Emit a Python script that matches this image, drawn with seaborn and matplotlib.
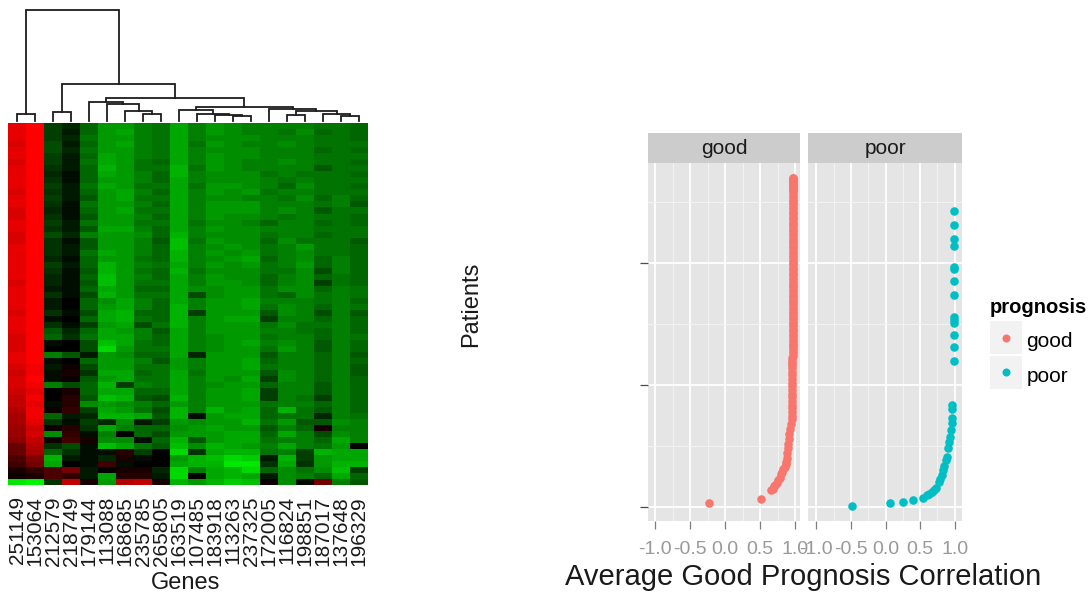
import numpy as np
import pandas as pd
import matplotlib
matplotlib.use("Agg")
import matplotlib.pyplot as plt
from matplotlib.colors import LinearSegmentedColormap
from matplotlib.lines import Line2D
from matplotlib.patches import Rectangle
from matplotlib.legend_handler import HandlerBase
import seaborn as sns

GENES = ["251149","153064","212579","218749","179144","113088","168685","235785","265805","163519",
         "107485","183918","113263","237325","172005","116824","198851","187017","137648","196329"]

EXPRESSION = [
 [18,20,-5,-3,-8,-12,-12,-10,-9,-13,-10,-12,-11,-10,-10,-10,-10,-9,-9,-8],
 [18,20,-5,-2,-8,-12,-13,-10,-9,-13,-10,-12,-11,-10,-10,-9,-11,-8,-9,-8],
 [18,20,-5,-3,-9,-12,-12,-10,-9,-13,-10,-11,-11,-11,-10,-10,-10,-9,-9,-8],
 [17,20,-6,-2,-8,-12,-13,-10,-9,-13,-9,-12,-11,-10,-10,-11,-10,-9,-9,-9],
 [18,20,-6,-3,-9,-12,-12,-10,-9,-13,-10,-11,-11,-11,-10,-10,-10,-8,-9,-8],
 [18,20,-5,-2,-8,-13,-12,-10,-9,-13,-10,-12,-11,-11,-10,-10,-10,-9,-9,-9],
 [17,20,-5,-2,-9,-13,-12,-9,-8,-13,-10,-12,-11,-10,-10,-11,-10,-9,-9,-8],
 [18,20,-4,-2,-8,-14,-12,-9,-9,-14,-9,-12,-11,-10,-10,-10,-10,-7,-9,-9],
 [18,20,-3,-1,-8,-13,-12,-10,-8,-14,-10,-11,-11,-11,-9,-10,-9,-9,-9,-8],
 [18,20,-4,-1,-8,-12,-12,-10,-8,-13,-10,-11,-11,-11,-10,-9,-10,-9,-9,-9],
 [18,20,-5,-2,-9,-13,-12,-9,-9,-13,-9,-12,-12,-11,-10,-8,-11,-9,-9,-8],
 [17,20,-4,-2,-8,-12,-13,-10,-8,-13,-10,-12,-11,-12,-9,-10,-10,-9,-9,-9],
 [18,20,-5,-2,-7,-12,-13,-9,-9,-13,-10,-11,-11,-10,-10,-9,-11,-8,-10,-8],
 [18,20,-4,-1,-9,-12,-12,-10,-8,-13,-10,-12,-12,-12,-10,-10,-10,-9,-10,-7],
 [17,20,-3,-1,-8,-12,-13,-9,-9,-13,-10,-12,-12,-12,-10,-11,-10,-7,-9,-9],
 [17,20,-4,-1,-7,-12,-12,-10,-8,-13,-10,-12,-11,-11,-10,-9,-10,-9,-9,-8],
 [18,20,-5,-2,-9,-12,-12,-9,-9,-13,-9,-11,-11,-10,-8,-10,-10,-8,-9,-8],
 [18,20,-4,-2,-7,-13,-13,-10,-8,-13,-10,-12,-11,-11,-10,-10,-10,-9,-9,-9],
 [17,20,-6,-3,-10,-12,-12,-11,-8,-14,-10,-11,-11,-11,-9,-10,-10,-8,-9,-9],
 [17,20,-4,-1,-7,-12,-12,-10,-7,-15,-9,-12,-11,-11,-8,-11,-9,-9,-9,-7],
 [18,20,-4,-2,-7,-12,-12,-10,-8,-15,-10,-11,-12,-11,-9,-10,-12,-9,-9,-8],
 [18,20,-4,-2,-9,-13,-12,-10,-8,-14,-10,-12,-11,-12,-9,-10,-11,-9,-9,-8],
 [18,20,-3,-1,-8,-12,-12,-9,-8,-14,-10,-11,-12,-13,-8,-10,-11,-8,-10,-8],
 [18,20,-5,-2,-8,-14,-12,-10,-9,-13,-10,-12,-11,-12,-9,-10,-12,-8,-10,-8],
 [18,20,-4,-1,-7,-14,-12,-9,-8,-14,-9,-11,-11,-11,-9,-9,-11,-6,-10,-8],
 [18,20,-3,-1,-8,-15,-12,-10,-8,-13,-10,-12,-11,-11,-8,-10,-11,-8,-9,-8],
 [17,20,-3,-1,-7,-15,-12,-9,-9,-13,-10,-12,-12,-11,-8,-10,-11,-5,-9,-8],
 [18,20,-2,-1,-8,-13,-12,-8,-8,-13,-11,-11,-12,-12,-9,-11,-11,-8,-10,-9],
 [18,20,-4,-1,-6,-14,-12,-9,-9,-13,-6,-11,-12,-12,-9,-8,-11,-9,-10,-9],
 [18,20,-2,0,-8,-11,-13,-10,-8,-13,-10,-12,-12,-13,-10,-10,-10,-9,-10,-8],
 [18,20,-2,0,-8,-12,-13,-10,-8,-14,-10,-12,-12,-13,-9,-11,-10,-8,-10,-9],
 [17,20,-4,-1,-6,-13,-14,-8,-8,-14,-5,-12,-12,-12,-7,-11,-10,-6,-10,-7],
 [18,20,-1,0,-8,-13,-14,-9,-8,-14,-10,-12,-13,-13,-5,-10,-10,-8,-10,-8],
 [18,20,-4,-1,-5,-12,-13,-6,-9,-14,-10,-12,-12,-12,-9,-11,-9,-9,-10,-8],
 [18,20,-7,-3,-8,-13,-12,-10,-7,-13,-10,-12,-12,-12,-10,-10,-9,-8,-10,-8],
 [17,20,-8,-4,-9,-13,-13,-10,-8,-13,-10,-11,-12,-12,-9,-10,-10,-8,-10,-9],
 [17,20,-1,0,-6,-15,-13,-9,-8,-13,-10,-11,-12,-13,-10,-11,-10,-7,-10,-8],
 [17,20,0,0,-6,-17,-12,-9,-9,-13,-10,-11,-12,-12,-9,-12,-10,-7,-10,-8],
 [18,20,-10,-7,-2,-12,-11,-8,-8,-13,-3,-12,-12,-12,-7,-10,-10,-8,-10,-7],
 [18,20,-1,0,-8,-12,-12,-10,-7,-12,-10,-12,-12,-13,-8,-10,-10,-8,-10,-8],
 [17,19,-2,1,-6,-12,-12,-9,-9,-12,-10,-12,-12,-13,-9,-10,-10,-8,-10,-7],
 [16,19,-1,2,-4,-13,-13,-8,-9,-13,-9,-12,-12,-12,-7,-11,-10,-8,-10,-7],
 [17,20,-1,1,-7,-12,-13,-9,-9,-13,-10,-12,-11,-13,-5,-11,-10,-8,-10,-8],
 [17,19,-10,-6,-8,-14,-5,-10,-9,-13,-10,-11,-12,-12,-8,-10,-10,-7,-10,-8],
 [16,18,0,2,-8,-13,-13,-8,-8,-13,-10,-12,-12,-13,-5,-10,-10,-7,-10,-8],
 [15,19,0,3,-7,-15,-14,-7,-6,-14,-10,-12,-12,-13,-5,-10,-9,-5,-10,-8],
 [15,18,-1,3,-11,-12,-11,-10,-8,-12,-10,-12,-12,-12,-9,-10,-10,-8,-10,-8],
 [14,19,1,4,-5,-13,-12,-9,-6,-14,-10,-14,-12,-13,-8,-14,-9,-7,-10,-8],
 [13,19,-8,-2,-3,-14,-14,-13,-7,-14,-1,-12,-13,-13,-8,-9,-9,-3,-10,-9],
 [13,18,-4,-1,-5,-3,-11,-2,-5,-12,-11,-12,-12,-14,-9,-12,-7,-7,-11,-10],
 [12,16,1,3,-4,-13,-10,-8,-8,-11,-12,-13,-12,-12,-7,-10,-8,2,-10,-10],
 [12,17,-11,4,-1,-10,0,-8,-6,-12,-12,-12,-13,-13,-8,-13,-10,-6,-11,-10],
 [11,15,1,5,2,-11,-11,-1,-8,-14,-7,-12,-13,-13,-9,-10,-10,-8,-13,-10],
 [8,14,-4,-6,-1,-15,-13,-9,-7,-15,-11,-14,-13,-12,-10,-13,-10,-9,-12,0],
 [8,13,-8,-4,-1,-1,3,-5,0,-17,-4,-13,-14,-14,-9,-10,-5,-14,-13,-13],
 [6,10,-14,-2,-1,-3,2,-1,0,-12,-14,-15,-17,-16,-2,-14,-5,-12,-13,-13],
 [5,9,-13,0,-1,5,-1,0,0,-13,-14,-14,-18,-18,-4,-13,-4,-12,-14,-14],
 [2,4,6,9,-2,0,2,2,-3,-17,-10,-13,-14,-17,-8,-11,-9,-11,-15,-5],
 [1,2,6,4,-2,-13,3,3,-2,-17,0,-13,-14,-13,-2,-11,-10,-8,-13,-8],
 [-18,-19,-4,15,2,-12,14,15,2,-14,-12,-14,-16,-15,1,-11,-1,9,-10,-7],
]

# Dendrogram merges: (child a, child b, height). Ids below 20 are columns, 20+k is merge k.
MERGES = [
 (0,1,7),(2,3,9),(7,8,7),(6,22,10),(5,23,17),(4,24,19),
 (12,13,5),(11,26,6),(10,27,7),(9,28,11),
 (18,19,5),(17,30,7.5),(15,16,6),(32,31,10.5),(14,33,12),
 (29,34,14),(25,35,23),(21,36,37),(20,37,111.5),
]

GOOD_X = [-0.23,0.52,0.66,0.68,0.70,0.72,0.74,0.76,0.78,0.80,0.81,0.83,0.85,0.87,0.87,0.88,0.89,0.90,0.90,0.91,0.92,0.93,
          0.94,0.95,0.955,0.955,0.955,0.955,0.955,0.955,0.955,0.955,0.955,0.955,0.955,0.955,0.955,0.955,0.955,0.955,0.955,0.955,
          0.975,0.975,0.975,0.975,0.975,0.975,0.975,0.975,0.975,0.975,0.975,0.975,0.975,0.975,0.975,0.975,0.975,0.975,0.975,0.975,
          0.975,0.975,0.975,0.975,0.975,0.975,0.975,0.975,0.975,0.975,0.975,0.975,0.975,0.975,0.975,0.975,0.975,0.975,0.975,0.975,
          0.975,0.975,0.975,0.975,0.975,0.975,0.975,0.975,0.975,0.975,0.975,0.975,0.975,0.975,0.975,0.975,0.975,0.975,0.975,0.975,
          0.975,0.975,0.975,0.975,0.975,0.975,0.975,0.975,0.975,0.975,0.975,0.975,0.975,0.975,0.975,0.975,0.975,0.975,0.975,0.975]
GOOD_Y = [3,6.5,14,15,17,18,20,22,24,27,29,31,33,35,37,40,44,48,52,56,60,64,
          68,72,75,78,81,84,87,90,93,96,99,102,105,108,111,114,116,118,120,122,
          124,126,128,130,132,134,136,138,140,142,144,146,148,150,152,154,156,158,160,162,
          164,166,168,170,172,174,176,178,180,182,184,186,188,190,192,194,196,198,200,202,
          204,206,208,210,212,214,216,218,220,222,224,226,228,230,232,234,236,238,240,242,
          244,246,248,250,252,254,256,258,260,261,262,263,264,265,266,267,268,269,269.5,270]
POOR_X = [-0.49,0.065,0.25,0.40,0.54,0.595,0.63,0.667,0.70,0.73,0.77,0.79,0.81,0.83,0.85,0.87,0.883,0.90,0.916,0.93,0.94,0.955,0.96,0.955,0.955,
          0.99,0.99,0.99,0.99,0.99,0.99,0.99,0.99,0.99,0.99,0.99,0.99,0.99,0.99]
POOR_Y = [1,3.3,4,5.7,7.4,10,11,12.3,14,15.6,20.5,23,26,30,34,38.5,41,48,53,57,63,69,73,80,84,
          120,131,141,151,153,156,174,185,195,197,214,220,231,242.6]

PANELS = ["good","poor"]
XTICKS = [-1.0,-0.5,0.0,0.5,1.0]
YTICKS = [0,100,200]
COLORS = {"good":"#F8766D","poor":"#00BFC4"}

W, H = 1091, 594
plt.rcParams["font.family"] = ["Liberation Sans","DejaVu Sans"]
fig = plt.figure(figsize=(W/100,H/100),dpi=100)

def box(x0,y0,x1,y1):
    return [x0/W,1-y1/H,(x1-x0)/W,(y1-y0)/H]

# heatmap
hm = fig.add_axes(box(8,123,368,485))
cmap = LinearSegmentedColormap.from_list("gbr",["#00ff00","#000000","#ff0000"])
sns.heatmap(pd.DataFrame(EXPRESSION,columns=GENES),ax=hm,cmap=cmap,vmin=-20,vmax=20,cbar=False,
            xticklabels=True,yticklabels=False)
hm.tick_params(axis="x",length=0,pad=8,labelsize=15,labelcolor="#1a1a1a",labelrotation=90)
hm.set_xlabel("Genes",fontsize=17,color="#1a1a1a")
hm.xaxis.set_label_coords((186-8)/360,(485-594)/362,transform=hm.transAxes)
hm.xaxis.label.set_va("bottom")

# dendrogram
den = fig.add_axes(box(8,0,368,121))
den.set_xlim(0,20); den.set_ylim(0,121); den.axis("off")
pos = {i:(i+0.5,0.0) for i in range(20)}
for k,(a,b,h) in enumerate(MERGES):
    xa,ya = pos[a]; xb,yb = pos[b]
    den.plot([xa,xa,xb,xb],[ya,h,h,yb],color="#1c1c1c",lw=1.3,solid_joinstyle="miter",clip_on=False)
    pos[20+k] = ((xa+xb)/2,h)

# facets
frame = pd.concat([pd.DataFrame({"corr":GOOD_X,"patient":GOOD_Y,"prognosis":"good"}),
                   pd.DataFrame({"corr":POOR_X,"patient":POOR_Y,"prognosis":"poor"})])
limits = {"good":((648,800),725,70.0),"poor":((808,962),885.5,69.3)}
axes = {}
for name in PANELS:
    (x0,x1),zero,scale = limits[name]
    ax = fig.add_axes(box(x0,163,x1,521))
    axes[name] = ax
    ax.set_facecolor("#e5e5e5")
    sub = frame[frame.prognosis==name]
    sns.scatterplot(data=sub,x="corr",y="patient",ax=ax,color=COLORS[name],s=38,linewidth=0,zorder=3,legend=False)
    ax.set_xlim((x0-zero)/scale,(x1-zero)/scale)
    ax.set_ylim((507-521)/1.22,(507-163)/1.22)
    for s in ax.spines.values(): s.set_visible(False)
    ax.set_xticks(XTICKS); ax.set_xticklabels([f"{t:.1f}" for t in XTICKS])
    ax.set_yticks(YTICKS)
    ax.set_xticks([-0.75,-0.25,0.25,0.75],minor=True)
    ax.set_yticks([50,150,250],minor=True)
    ax.grid(True,which="major",color="white",lw=1.3)
    ax.grid(True,which="minor",color="#f2f2f2",lw=0.8)
    ax.set_axisbelow(True)
    ax.tick_params(axis="x",which="major",length=5.5,width=0.9,color="#7f7f7f",labelcolor="#999999",labelsize=14,pad=9)
    ax.tick_params(axis="y",which="major",length=5.5,width=0.9,color="#4d4d4d",labelleft=False)
    ax.tick_params(which="minor",length=0)
    ax.set_xlabel(""); ax.set_ylabel("")
    ax.add_patch(Rectangle((0,1),1,30/358,transform=ax.transAxes,color="#cccccc",clip_on=False,lw=0))
    ax.text(0.5,1+15/358,name,transform=ax.transAxes,ha="center",va="center",fontsize=15,color="#1a1a1a")
axes["poor"].tick_params(axis="y",which="major",length=0)

g = axes["good"]
g.set_ylabel("Patients",fontsize=17,color="#1a1a1a")
g.yaxis.set_label_coords((482-648)/152,(521-304)/358)
g.set_xlabel("Average Good Prognosis Correlation",fontsize=21,color="#1a1a1a")
g.xaxis.set_label_coords((803-648)/152,(521-577)/358)
g.xaxis.label.set_va("center")

# legend
class KeyHandler(HandlerBase):
    def create_artists(self, legend, orig, xdescent, ydescent, width, height, fontsize, trans):
        bottom = -ydescent + 2.0
        tall = 23.6
        rect = Rectangle((-xdescent, bottom), width, tall, facecolor="#f2f2f2", edgecolor="none", transform=trans)
        dot = Line2D([-xdescent + width/2], [bottom + tall/2], marker="o", ls="", color=orig.get_color(),
                     markersize=5.8, markeredgewidth=0, transform=trans)
        return [rect, dot]

handles = [Line2D([],[],marker="o",ls="",color=COLORS[n]) for n in PANELS]
leg = fig.legend(handles,PANELS,title="prognosis",handler_map={Line2D:KeyHandler()},
                 loc="upper left",bbox_to_anchor=(990/W,1-298/H),frameon=False,fontsize=15,
                 handlelength=1.54,handleheight=2.04,labelspacing=0.1,handletextpad=0.2,borderpad=0,borderaxespad=0,
                 title_fontproperties={"weight":"bold","size":14.5})
leg._legend_box.align = "left"
leg._legend_box.sep = 5.1

fig.savefig("out.png",dpi=100)
